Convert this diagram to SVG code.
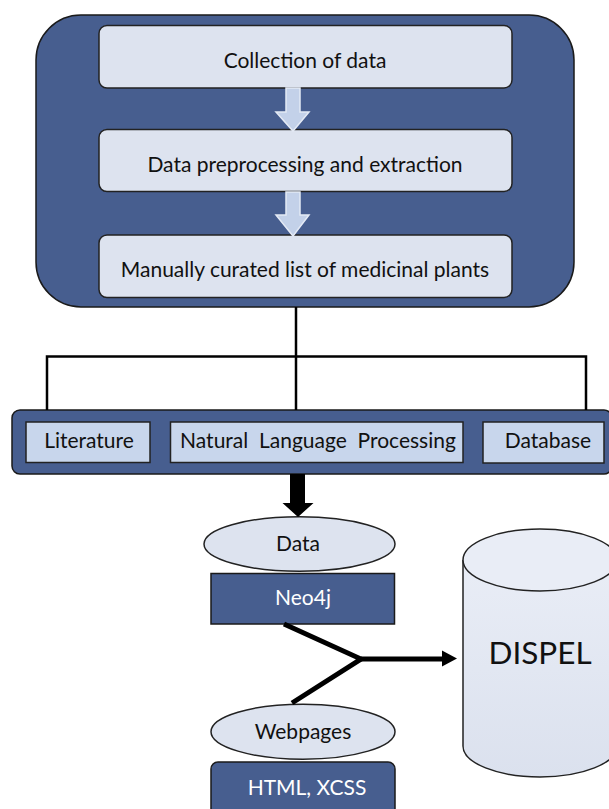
<svg xmlns="http://www.w3.org/2000/svg" width="609" height="809" viewBox="0 0 609 809">
<style>
text{font-family:Lato,"Liberation Sans",sans-serif;font-size:21px;fill:#111;text-anchor:middle}
.w{fill:#fff}
.dark{fill:#475e8f;stroke:#1a1a1a;stroke-width:1.5}
.lt{fill:#dde3ef;stroke:#222;stroke-width:1.5}
.lb{fill:#c8d6ec;stroke:#222;stroke-width:1.5}
.flow{fill:#c3d1e9;stroke:#e4eaf5;stroke-width:1.5}
.ln{fill:none;stroke:#000;stroke-width:2.5}
.thick{fill:none;stroke:#000;stroke-width:5}
</style>
<defs>
<linearGradient id="cyl" x1="0" y1="0" x2="0" y2="1">
<stop offset="0" stop-color="#e9edf6"/>
<stop offset="1" stop-color="#dbe1ee"/>
</linearGradient>
<marker id="ah" viewBox="0 0 10 10" refX="9" refY="5" markerWidth="3" markerHeight="3" orient="auto" markerUnits="strokeWidth">
<path d="M0,0 L10,5 L0,10 z" fill="#000"/>
</marker>
</defs>

<g id="pipeline">
<rect class="dark" x="36" y="15" width="538" height="292" rx="45"/>
</g>
<g id="collection">
<rect class="lt" x="99" y="25.5" width="413" height="62.5" rx="8"/>
<text x="305" y="68">Collection of data</text>
</g>
<g id="preprocessing">
<rect class="lt" x="99" y="129.5" width="413" height="62" rx="8"/>
<text x="305" y="172">Data preprocessing and extraction</text>
</g>
<g id="curated">
<rect class="lt" x="99" y="235" width="413" height="62.5" rx="8"/>
<text x="305" y="277">Manually curated list of medicinal plants</text>
</g>

<g id="sources">
<rect class="dark" x="12" y="410" width="600" height="64" rx="8"/>
</g>
<g id="literature">
<rect class="lb" x="26" y="422" width="124" height="40.5"/>
<text x="89" y="448">Literature</text>
</g>
<g id="nlp">
<rect class="lb" x="170.5" y="422" width="292.5" height="40.5"/>
<text x="318" y="448" xml:space="preserve">Natural  Language  Processing</text>
</g>
<g id="database">
<rect class="lb" x="483" y="422" width="121" height="41"/>
<text x="548" y="448">Database</text>
</g>

<g id="data">
<ellipse class="lt" cx="299.5" cy="544" rx="95.5" ry="27.3"/>
<text x="298" y="551">Data</text>
</g>
<g id="neo4j">
<rect class="dark" x="211" y="573.5" width="183.5" height="50.5"/>
<text class="w" x="303" y="605">Neo4j</text>
</g>
<g id="webpages">
<ellipse class="lt" cx="303" cy="731.7" rx="92" ry="27.5"/>
<text x="303" y="739">Webpages</text>
</g>
<g id="html">
<rect class="dark" x="211" y="762" width="184" height="60" rx="7"/>
<text class="w" x="307" y="795">HTML, XCSS</text>
</g>
<g id="dispel">
<path d="M463,560 V746 A77,31 0 0 0 617,746 V560" fill="url(#cyl)" stroke="#222" stroke-width="1.5"/>
<ellipse cx="540" cy="560" rx="77" ry="31" fill="#e9edf6" stroke="#222" stroke-width="1.5"/>
<text x="540" y="664" style="font-size:31.5px">DISPEL</text>
</g>

<g id="connectors">
<path class="flow" d="M286,88 H300 V112 H309 L293,131 L276,112 H286 Z"/>
<path class="flow" d="M286,192 H300 V215 H309 L293,236 L276,215 H286 Z"/>
<path class="ln" d="M296,307 V410"/>
<path class="ln" d="M47,410 V356.5 H586 V410"/>
<path d="M290,474 H305 V503 H313.5 L298,517 L282.5,503 H290 Z" fill="#000"/>
<path class="thick" d="M284,624 L361,659 L292,703" stroke-linejoin="miter"/>
<path class="thick" d="M361,659 H444" stroke-width="4.5"/>
<path d="M442,650.5 L457,658.5 L442,666.5 Z" fill="#000"/>
</g>
</svg>
